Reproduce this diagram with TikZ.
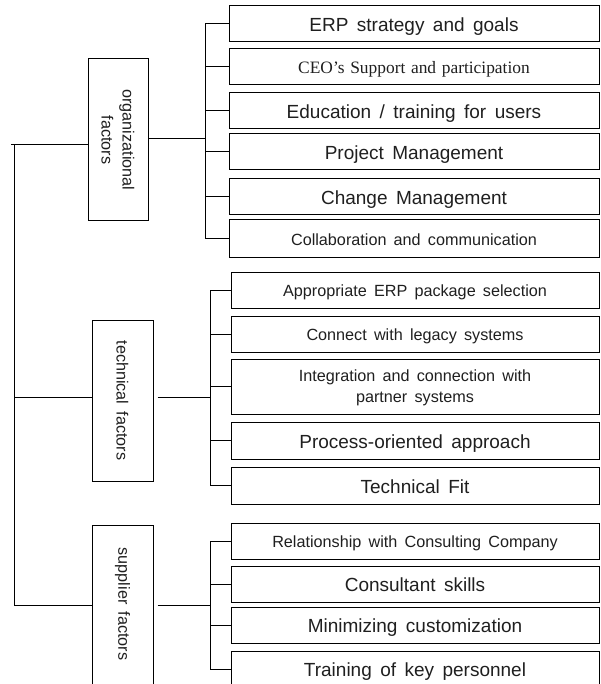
\documentclass[tikz,border=0pt]{standalone}
\usepackage{fontspec}
\setmainfont{Liberation Sans}[WordSpace=1.6]
\newfontfamily\ceofont{Liberation Serif}[WordSpace=1.3]
\usetikzlibrary{calc}

\tikzset{
  link/.style={line width=1pt},
  factorbox/.style={draw, line width=1pt, inner sep=0pt},
  factortext/.style={rotate=-90, inner sep=0pt, align=center, text=black!88, font=\fontsize{16.2}{21}\selectfont},
  itembox/.style={draw, line width=1pt, inner sep=0pt, minimum width=368pt, minimum height=36pt, align=center, text=black!88},
  bigtxt/.style={font=\fontsize{19}{22}\selectfont, text height=15.6pt, text depth=0pt},
  smalltxt/.style={font=\fontsize{16.2}{21}\selectfont, text height=13.6pt, text depth=0pt},
  tworowtxt/.style={font=\fontsize{16.2}{21}\selectfont, text depth=0pt},
  ceotxt/.style={font=\ceofont\fontsize{17.4}{21}\selectfont, text height=13.5pt, text depth=0pt}
}

\begin{document}
\begin{tikzpicture}[x=1pt,y=1pt,yscale=-1]
\clip (0,0) rectangle (600,684);

% factor boxes
\node[factorbox, minimum width=60pt, minimum height=162pt] (org) at (118,140) {};
\node[factortext] (orglabel) at (org.center) {organizational\\factors};
\node[factorbox, minimum width=61pt, minimum height=161pt] (tech) at (122.5,400.5) {};
\node[factortext] (techlabel) at (tech.center) {technical factors};
\node[factorbox, minimum width=61pt, minimum height=162pt] (supp) at (122.5,606) {};
\node[factortext] (supplabel) at ([yshift=-2pt]supp.center) {supplier factors};

% organizational items
\node[itembox, bigtxt, minimum width=370pt] (org1) at (414,24) {ERP strategy and goals};
\node[itembox, ceotxt, minimum width=370pt] (org2) at (414,67) {CEO’s Support and participation};
\node[itembox, bigtxt, minimum width=370pt] (org3) at (414,111) {Education / training for users};
\node[itembox, bigtxt, minimum width=370pt] (org4) at (414,152) {Project Management};
\node[itembox, bigtxt, minimum width=370pt] (org5) at (414,197) {Change Management};
\node[itembox, smalltxt, minimum width=370pt, minimum height=37pt] (org6) at (414,238.5) {Collaboration and communication};

% technical items
\node[itembox, smalltxt] (tech1) at (415,290) {Appropriate ERP package selection};
\node[itembox, smalltxt] (tech2) at (415,334) {Connect with legacy systems};
\node[itembox, tworowtxt, minimum height=55pt] (tech3) at (415,386.5) {Integration and connection with\\partner systems};
\node[itembox, bigtxt, minimum height=37pt] (tech4) at (415,440.5) {Process-oriented approach};
\node[itembox, bigtxt, minimum height=37pt] (tech5) at (415,485.5) {Technical Fit};

% supplier items
\node[itembox, smalltxt] (supp1) at (415,541) {Relationship with Consulting Company};
\node[itembox, bigtxt] (supp2) at (415,584) {Consultant skills};
\node[itembox, bigtxt] (supp3) at (415,625) {Minimizing customization};
\node[itembox, bigtxt] (supp4) at (415,669) {Training of key personnel};

% trunk
\coordinate (trunk1) at (14,145);
\coordinate (trunk2) at (14,397);
\coordinate (trunk3) at (14,605);
\draw[link] ([xshift=-3pt]trunk1) -- (org.west |- trunk1);
\draw[link] (trunk2) -- (tech.west |- trunk2);
\draw[link] (trunk3) -- (supp.west |- trunk3);
\draw[link] (trunk1) -- (trunk3);

% brackets
\coordinate (orgbar) at (205,139);
\coordinate (techbar) at (210,397);
\coordinate (suppbar) at (210,605);
\draw[link] (org.east |- orgbar) -- (orgbar);
\draw[link] ([xshift=4pt]tech.east |- techbar) -- (techbar);
\draw[link] ([xshift=4pt]supp.east |- suppbar) -- (suppbar);
\draw[link] (org1.west -| orgbar) -- (org6.west -| orgbar);
\draw[link] (tech1.west -| techbar) -- (tech5.west -| techbar);
\draw[link] (supp1.west -| suppbar) -- (supp4.west -| suppbar);
\foreach \i in {1,...,6}
  \draw[link] (org\i.west) -- (org\i.west -| orgbar);
\foreach \i in {1,...,5}
  \draw[link] (tech\i.west) -- (tech\i.west -| techbar);
\foreach \i in {1,...,4}
  \draw[link] (supp\i.west) -- (supp\i.west -| suppbar);

\end{tikzpicture}
\end{document}
